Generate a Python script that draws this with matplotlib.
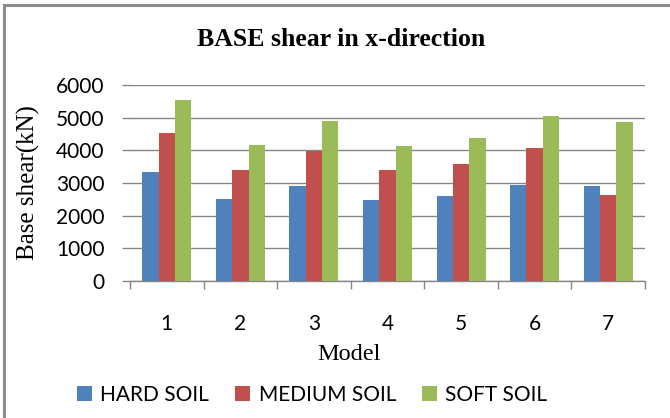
import matplotlib.pyplot as plt
from matplotlib.patches import Rectangle
import numpy as np

models = ["1", "2", "3", "4", "5", "6", "7"]
hard_soil = [3330, 2510, 2920, 2490, 2600, 2930, 2910]
medium_soil = [4520, 3410, 3990, 3410, 3570, 4080, 2620]
soft_soil = [5550, 4175, 4900, 4145, 4390, 5050, 4860]

series = [("HARD SOIL", hard_soil, "#4f81bd"),
          ("MEDIUM SOIL", medium_soil, "#c0504d"),
          ("SOFT SOIL", soft_soil, "#9bbb59")]

W, H = 670, 418
fig = plt.figure(figsize=(W / 100, H / 100), dpi=100)

# chart frame (only the top and left edges fall inside the image)
fig.patches.append(Rectangle((4 / W, -0.05), 1.1, 1 - 5 / H + 0.05,
                             transform=fig.transFigure, fill=False,
                             edgecolor="#8c8c8c", linewidth=2.2))

ax = fig.add_axes([130 / W, 1 - 281 / H, 515 / W, 196 / H])

x = np.arange(len(models))
w = 1 / 4.5
for i, (name, vals, col) in enumerate(series):
    ax.bar(x + (i - 1) * w, vals, w, color=col, label=name, zorder=3)

ax.set_xlim(-0.5, len(models) - 0.5)
ax.set_ylim(0, 6000)
ax.set_yticks(range(0, 6001, 1000))
ax.set_xticks(x)
ax.set_xticklabels(models)
ax.set_xticks(np.arange(-0.5, len(models)), minor=True)
ax.tick_params(axis="x", which="major", length=0, pad=24)
ax.tick_params(axis="x", which="minor", length=6, color="#868686", width=1.0)
ax.tick_params(axis="y", length=5.5, color="#868686", width=1.0, pad=13)
for lab in ax.get_xticklabels() + ax.get_yticklabels():
    lab.set_fontfamily("Lato")
    lab.set_fontsize(15)

ax.grid(axis="y", color="#868686", linewidth=1.0, zorder=0)
for s in ["top", "right", "left"]:
    ax.spines[s].set_visible(False)
ax.spines["bottom"].set_color("#868686")
ax.spines["bottom"].set_linewidth(1.0)

fig.text(341 / W, 1 - 40 / H, "BASE shear in x-direction", fontfamily="Liberation Serif",
         fontweight="bold", fontsize=18.5, ha="center", va="center")
fig.text(28 / W, 1 - 183 / H, "Base shear(kN)", fontfamily="Liberation Serif",
         fontsize=18, rotation=90, ha="center", va="center")
fig.text(349 / W, 1 - 354 / H, "Model", fontfamily="Liberation Serif",
         fontsize=17.5, ha="center", va="center")

fig.legend(*ax.get_legend_handles_labels(), loc="center left",
           bbox_to_anchor=(77 / W, 1 - 395 / H), bbox_transform=fig.transFigure,
           ncol=3, frameon=False, borderpad=0, borderaxespad=0,
           prop={"family": "Lato", "size": 15}, handlelength=0.72,
           handleheight=0.72, handletextpad=0.4, columnspacing=1.25)

fig.savefig("out.png", dpi=100)
